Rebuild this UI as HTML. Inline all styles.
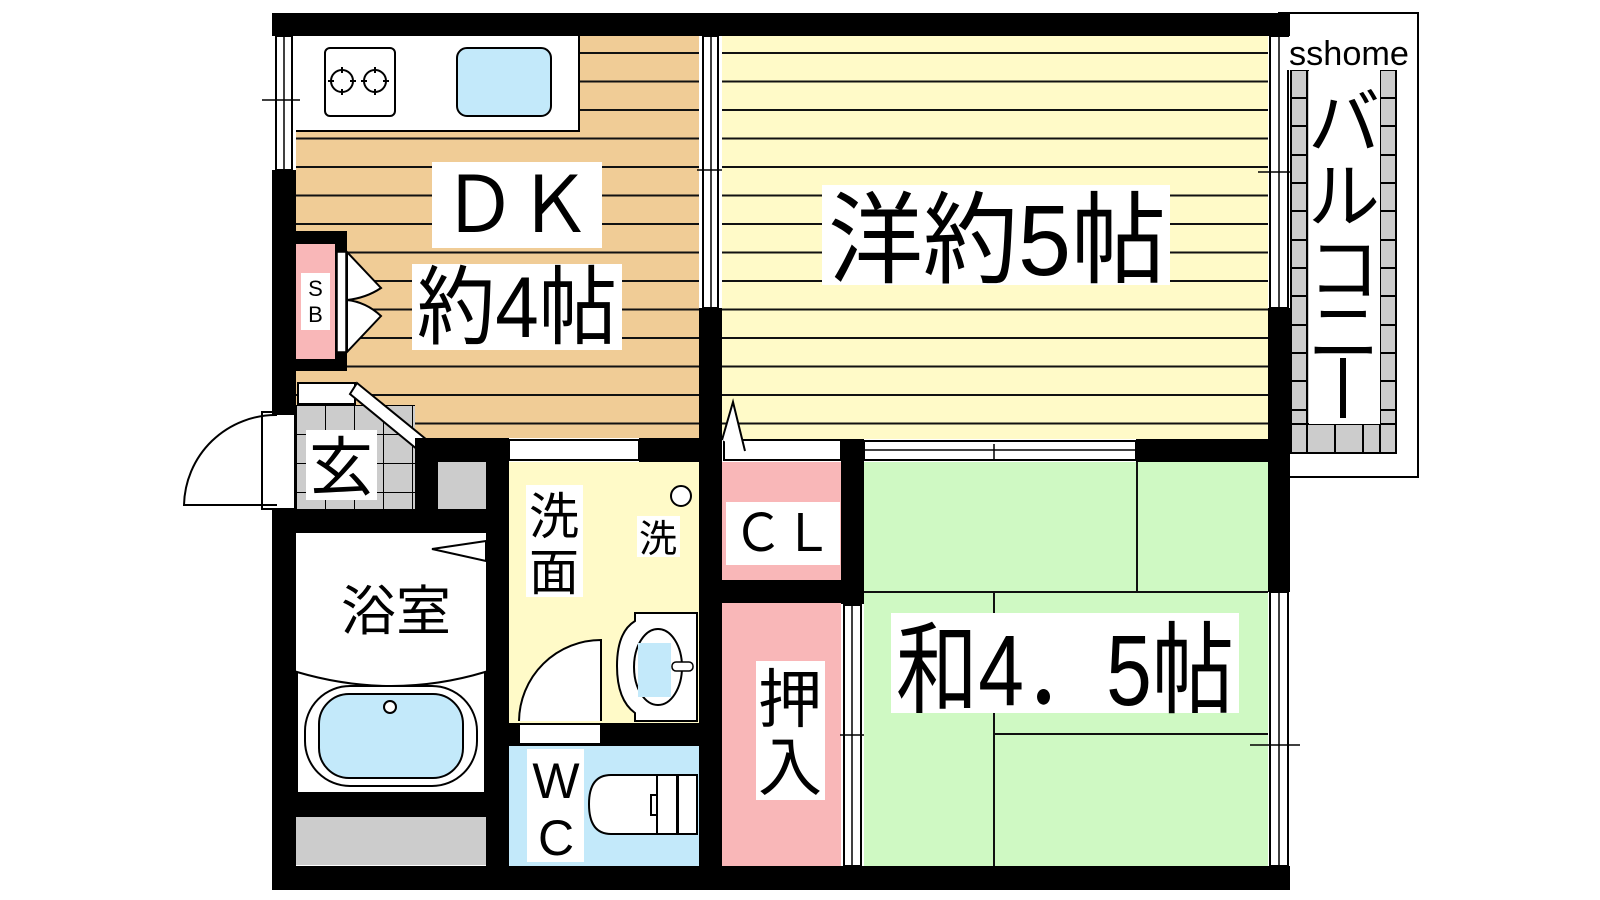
<!DOCTYPE html>
<html><head><meta charset="utf-8"><style>
html,body{margin:0;padding:0;background:#fff;width:1600px;height:900px;overflow:hidden}
svg{display:block}
text{font-family:"Liberation Sans","Noto Sans CJK JP",sans-serif;fill:#000}
</style></head><body>
<svg width="1600" height="900" viewBox="0 0 1600 900" xmlns="http://www.w3.org/2000/svg">
<defs>
<pattern id="wood" x="0" y="52" width="10" height="28.5" patternUnits="userSpaceOnUse">
<rect width="10" height="28.5" fill="#f0cc96"/><rect y="0" width="10" height="2" fill="#111"/></pattern>
<pattern id="yel" x="0" y="52" width="10" height="28.5" patternUnits="userSpaceOnUse">
<rect width="10" height="28.5" fill="#fffac8"/><rect y="0" width="10" height="2" fill="#111"/></pattern>
<pattern id="tile" x="296" y="405" width="29" height="29" patternUnits="userSpaceOnUse">
<rect width="29" height="29" fill="#cccccc"/><path d="M0 0H29M0 0V29" stroke="#000" stroke-width="2"/></pattern>
</defs>

<rect x="296" y="36" width="403" height="402" fill="url(#wood)"/>
<rect x="296" y="36" width="283" height="95" fill="#fff"/>
<path d="M579 36V131H296" fill="none" stroke="#000" stroke-width="2"/>
<rect x="325" y="48" width="70" height="68" rx="5" fill="#fff" stroke="#000" stroke-width="2"/>
<circle cx="342" cy="81" r="11" fill="none" stroke="#000" stroke-width="2"/>
<circle cx="375" cy="81" r="11" fill="none" stroke="#000" stroke-width="2"/>
<path d="M342 67v6M342 89v6M328 81h6M350 81h6M375 67v6M375 89v6M361 81h6M383 81h6" stroke="#000" stroke-width="2"/>
<rect x="457" y="48" width="94" height="68" rx="10" fill="#c3e9fa" stroke="#000" stroke-width="2"/>

<rect x="722" y="36" width="546" height="403" fill="url(#yel)"/>

<rect x="864" y="462" width="404" height="404" fill="#cff9c3"/>
<path d="M864 592H1268M1137 462V592M994 592V866M994 734H1268" stroke="#111" stroke-width="2"/>

<rect x="722" y="462" width="119" height="120" fill="#f9b7b8"/>
<rect x="722" y="603" width="119" height="263" fill="#f9b7b8"/>

<rect x="509" y="462" width="190" height="261" fill="#fffac8"/>
<rect x="509" y="746" width="190" height="120" fill="#c3e9fa"/>

<rect x="296" y="533" width="190" height="260" fill="#fff"/>
<path d="M297 672 Q392 700 485 672 V793 H297Z" fill="#fff" stroke="#000" stroke-width="2"/>
<rect x="305" y="686" width="172" height="100" rx="45" fill="#fff" stroke="#000" stroke-width="2"/>
<rect x="319" y="694" width="144" height="84" rx="30" fill="#c3e9fa" stroke="#000" stroke-width="2"/>
<circle cx="390" cy="707" r="6" fill="#fff" stroke="#000" stroke-width="2"/>
<path d="M486 541 L432 549 L486 561Z" fill="#fff" stroke="#000" stroke-width="2"/>
<rect x="489" y="540" width="18" height="110" fill="#fff" stroke="#000" stroke-width="2"/>
<rect x="296" y="817" width="190" height="48" fill="#cccccc"/>

<rect x="296" y="405" width="119" height="104" fill="url(#tile)"/>
<rect x="438" y="462" width="48" height="47" fill="#cccccc"/>
<rect x="298" y="383" width="57" height="21" fill="#fff" stroke="#000" stroke-width="2"/>
<path d="M357 383 L427 440 L418 450 L350 394Z" fill="#fff" stroke="#000" stroke-width="2"/>
<rect x="262" y="412" width="33" height="97" fill="#fff" stroke="#000" stroke-width="2"/>
<path d="M277 415 A92 92 0 0 0 184 505 H277" fill="none" stroke="#000" stroke-width="2"/>

<g fill="#000">
<rect x="272" y="13" width="1018" height="23"/>
<rect x="272" y="170" width="24" height="245"/>
<rect x="272" y="509" width="24" height="381"/>
<rect x="272" y="866" width="1018" height="24"/>
<rect x="699" y="308" width="23" height="558"/>
<rect x="1268" y="308" width="22" height="284"/>
<rect x="415" y="438" width="94" height="24"/>
<rect x="639" y="438" width="83" height="24"/>
<rect x="415" y="438" width="23" height="71"/>
<rect x="272" y="509" width="237" height="24"/>
<rect x="486" y="438" width="23" height="428"/>
<rect x="272" y="793" width="237" height="24"/>
<rect x="509" y="723" width="190" height="23"/>
<rect x="841" y="439" width="23" height="165"/>
<rect x="722" y="580" width="142" height="23"/>
<rect x="1136" y="439" width="154" height="23"/>
<rect x="296" y="231" width="51" height="140"/>
</g>
<rect x="296" y="244" width="39" height="115" fill="#f9b7b8"/>
<rect x="301" y="273" width="29" height="57" fill="#fff"/>
<text x="315.5" y="296" font-size="22" text-anchor="middle">S</text>
<text x="315.5" y="322" font-size="22" text-anchor="middle">B</text>
<rect x="337" y="252" width="9" height="100" fill="#fff" stroke="#000" stroke-width="1.5"/>
<path d="M347 252 L381 288 Q366 298 347 300Z M347 300 Q366 302 381 316 L347 352Z" fill="#fff" stroke="#000" stroke-width="2"/>

<g fill="#fff" stroke="#000" stroke-width="2">
<rect x="276" y="36" width="16" height="134"/>
<rect x="703" y="36" width="15" height="272"/>
<rect x="1270" y="36" width="18" height="272"/>
<rect x="844" y="605" width="17" height="261"/>
<rect x="1270" y="592" width="18" height="274"/>
<rect x="864" y="441" width="272" height="19"/>
<rect x="509" y="440" width="130" height="20"/>
<rect x="724" y="440" width="117" height="20"/>
<rect x="519" y="724" width="82" height="20"/>
</g>
<path d="M284 36V170M711 36V308M1279 36V308M852 605V866M1279 592V866M864 450H1136M262 100H300M697 170H722M1258 172H1300M1250 745H1300M840 735H864M994 444V460M980 450H1010" stroke="#000" stroke-width="1.5"/>
<path d="M722 440 L733 402 L745 451" fill="#fff" stroke="#000" stroke-width="2"/>

<circle cx="681" cy="496" r="10" fill="#fff" stroke="#000" stroke-width="2"/>
<path d="M601 721 V640 A82 82 0 0 0 519 721" fill="#fff" stroke="#000" stroke-width="2"/>
<path d="M635 613 H697 V721 H635 V713 Q617 700 617 666 Q617 632 635 621Z" fill="#fff" stroke="#000" stroke-width="2"/>
<ellipse cx="658" cy="667" rx="24" ry="38" fill="#fff" stroke="#000" stroke-width="2"/>
<rect x="638" y="643" width="33" height="54" fill="#c3e9fa"/>
<rect x="672" y="662" width="21" height="9" rx="4" fill="#fff" stroke="#000" stroke-width="1.5"/>
<path d="M677 775 H611 Q589 775 589 804 Q589 834 611 834 H677Z" fill="#fff" stroke="#000" stroke-width="2"/>
<path d="M657 775 V834 M657 795 H651 V815 H657 M677 775 V834" stroke="#000" stroke-width="2" fill="none"/>
<rect x="678" y="775" width="19" height="59" fill="#fff" stroke="#000" stroke-width="2"/>

<path d="M1278 13 H1418 V477 H1290" fill="none" stroke="#000" stroke-width="2"/>
<rect x="1291" y="70" width="105" height="383" fill="#cccccc" stroke="#000" stroke-width="2"/>
<g stroke="#000" stroke-width="2">
<path d="M1291 98H1307M1291 126H1307M1291 155H1307M1291 183H1307M1291 211H1307M1291 240H1307M1291 268H1307M1291 296H1307M1291 325H1307M1291 353H1307M1291 381H1307M1291 410H1307M1380 98H1396M1380 126H1396M1380 155H1396M1380 183H1396M1380 211H1396M1380 240H1396M1380 268H1396M1380 296H1396M1380 325H1396M1380 353H1396M1380 381H1396M1380 410H1396M1307 70V453M1335 424V453M1363 424V453M1380 70V453M1291 424H1396"/>
</g>
<rect x="1309" y="70" width="71" height="354" fill="#fff"/>
<rect x="1287" y="37" width="124" height="33" fill="#fff"/>
<text x="1349" y="65" font-size="34" text-anchor="middle" textLength="120" lengthAdjust="spacingAndGlyphs">sshome</text>
<text x="1344" y="148" font-size="72" text-anchor="middle">バ</text>
<text x="1344" y="222" font-size="72" text-anchor="middle">ル</text>
<text x="1344" y="295" font-size="72" text-anchor="middle">コ</text>
<text x="1344" y="358" font-size="72" text-anchor="middle">ニ</text>
<rect x="1340" y="358" width="6" height="60" fill="#000"/>

<rect x="432" y="162" width="170" height="86" fill="#fff"/>
<text x="517" y="232" font-size="78" text-anchor="middle" textLength="150" lengthAdjust="spacingAndGlyphs">ＤＫ</text>
<rect x="412" y="264" width="210" height="86" fill="#fff"/>
<text x="417" y="337" font-size="86" textLength="200" lengthAdjust="spacingAndGlyphs">約4帖</text>
<rect x="822" y="185" width="348" height="100" fill="#fff"/>
<text x="828" y="275" font-size="100" textLength="338" lengthAdjust="spacingAndGlyphs">洋約5帖</text>
<rect x="891" y="613" width="348" height="100" fill="#fff"/>
<text x="896" y="705" font-size="100" textLength="338" lengthAdjust="spacingAndGlyphs">和4<tspan>．</tspan>5帖</text>
<rect x="726" y="502" width="114" height="63" fill="#fff"/>
<text x="783" y="551" font-size="52" text-anchor="middle" textLength="100" lengthAdjust="spacingAndGlyphs">ＣＬ</text>
<rect x="756" y="661" width="69" height="139" fill="#fff"/>
<text x="790" y="722" font-size="64" text-anchor="middle">押</text>
<text x="790" y="790" font-size="64" text-anchor="middle">入</text>
<rect x="526" y="485" width="57" height="112" fill="#fff"/>
<text x="554" y="534" font-size="50" text-anchor="middle">洗</text>
<text x="554" y="590" font-size="50" text-anchor="middle">面</text>
<rect x="637" y="516" width="43" height="41" fill="#fff"/>
<text x="658" y="552" font-size="38" text-anchor="middle">洗</text>
<text x="396" y="630" font-size="54" text-anchor="middle" textLength="110" lengthAdjust="spacingAndGlyphs">浴室</text>
<rect x="306" y="430" width="71" height="70" fill="#fff"/>
<text x="341" y="490" font-size="64" text-anchor="middle">玄</text>
<rect x="527" y="749" width="57" height="113" fill="#fff"/>
<text x="556" y="798" font-size="50" text-anchor="middle">W</text>
<text x="556" y="855" font-size="50" text-anchor="middle">C</text>
</svg>
</body></html>
